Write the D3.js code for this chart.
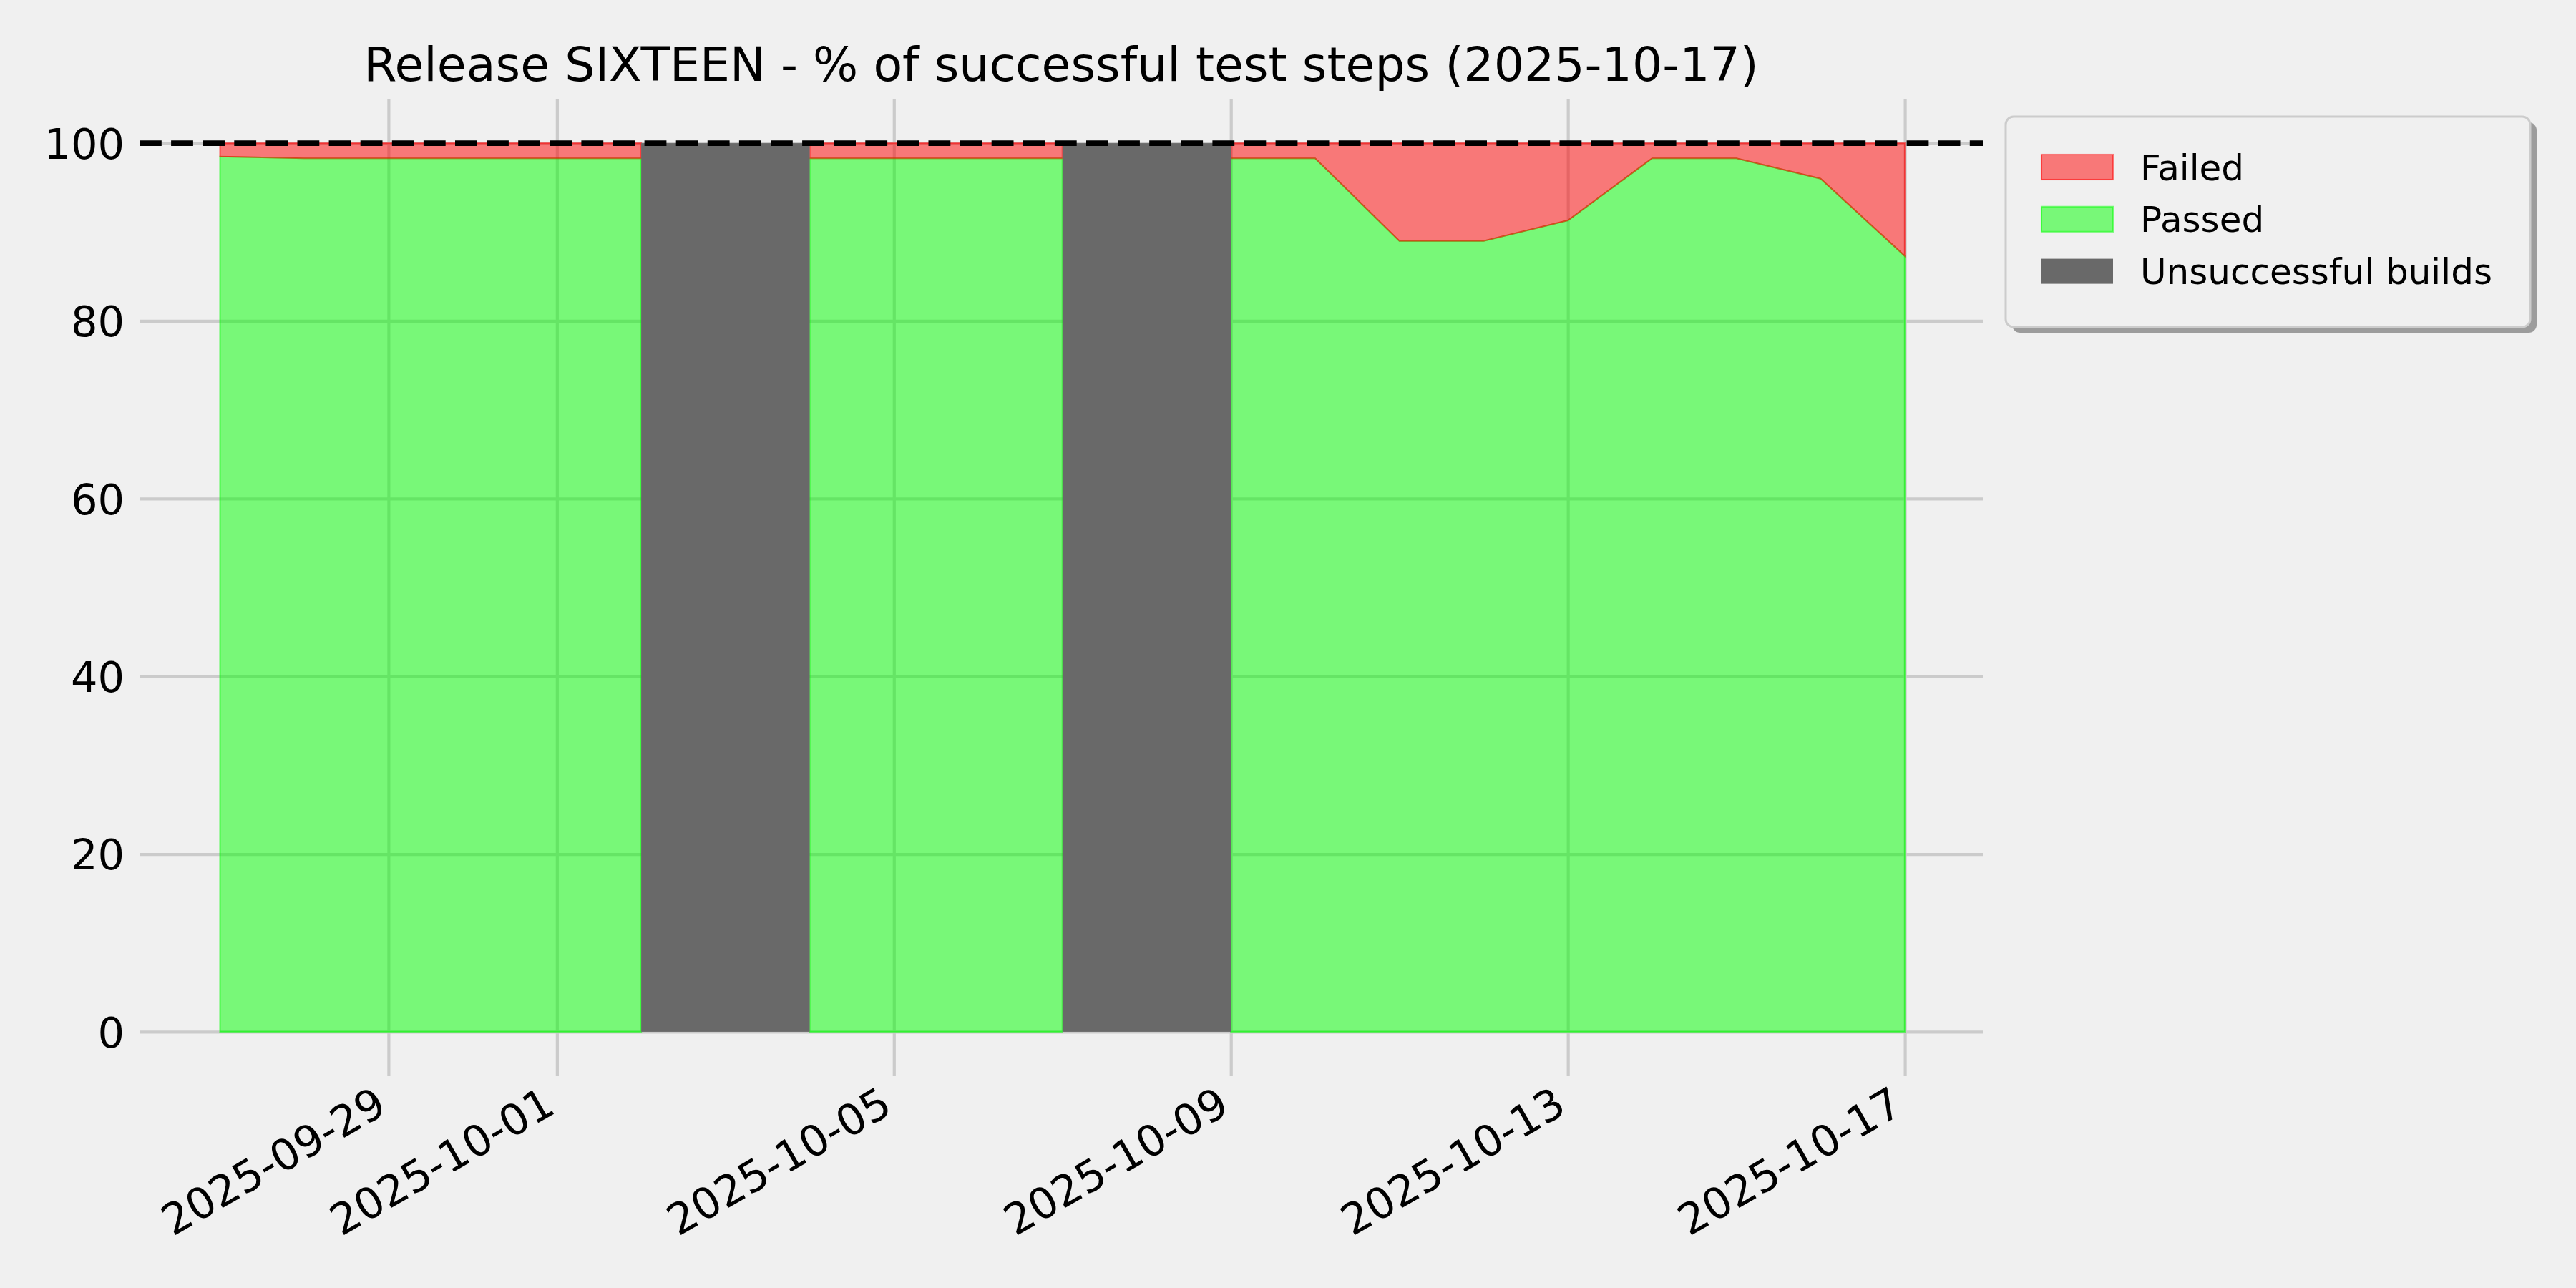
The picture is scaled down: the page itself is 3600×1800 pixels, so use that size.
<!DOCTYPE html>
<html>
<head>
<meta charset="utf-8">
<script src="https://cdn.jsdelivr.net/npm/d3@7"></script>
<style>
  html, body { margin: 0; padding: 0; background: #f0f0f0; }
  svg { display: block; font-family: "DejaVu Sans", sans-serif; }
</style>
</head>
<body>
<svg id="chart" width="3600" height="1800"></svg>
<script>
// ---- data ----
const dates = ["2025-09-27","2025-09-28","2025-09-29","2025-09-30","2025-10-01","2025-10-02","2025-10-03",
               "2025-10-04","2025-10-05","2025-10-06","2025-10-07","2025-10-08","2025-10-09","2025-10-10",
               "2025-10-11","2025-10-12","2025-10-13","2025-10-14","2025-10-15","2025-10-16","2025-10-17"];
const passed = [98.5, 98.3, 98.3, 98.3, 98.3, 98.3, null, 98.3, 98.3, 98.3, 98.3, null, 98.3, 98.3,
                89.0, 89.0, 91.3, 98.3, 98.3, 96.0, 87.3];
const failed = [1.5, 1.7, 1.7, 1.7, 1.7, 1.7, null, 1.7, 1.7, 1.7, 1.7, null, 1.7, 1.7,
                11.0, 11.0, 8.7, 1.7, 1.7, 4.0, 12.7];
const unsuccessfulBuilds = ["2025-10-03", "2025-10-08"];
const xTickLabels = ["2025-09-29","2025-10-01","2025-10-05","2025-10-09","2025-10-13","2025-10-17"];
const yTicks = [0, 20, 40, 60, 80, 100];
const targetLine = 100;
const legendLabels = ["Failed", "Passed", "Unsuccessful builds"];
const titleText = "Release SIXTEEN - % of successful test steps (2025-10-17)";

// ---- layout ----
const DAY = 24 * 3600 * 1000;
const parse = d3.utcParse("%Y-%m-%d");
const fmt = d3.utcFormat("%Y-%m-%d");
const X0 = 195, X1 = 2771;
const rows = dates.map((d, i) => ({ date: parse(d), passed: passed[i], failed: failed[i] }));
const first = rows[0].date, last = rows[rows.length - 1].date;

const x = d3.scaleUtc()
  .domain([new Date(+first - 0.955 * DAY), new Date(+last + 0.925 * DAY)])
  .range([X0, X1]);
const y = d3.scaleLinear().domain([-5, 105]).range([1504, 138]);

const svg = d3.select("#chart");
svg.append("rect").attr("width", 3600).attr("height", 1800).attr("fill", "#f0f0f0");

const GRID = "#cbcbcb";

// y grid + labels
const yAxis = svg.append("g").attr("transform", `translate(${X0},0)`)
  .call(d3.axisLeft(y).tickValues(yTicks).tickSize(-(X1 - X0)).tickPadding(21).tickFormat(d3.format("d")));
yAxis.select(".domain").remove();
yAxis.selectAll(".tick line").attr("stroke", GRID).attr("stroke-width", 4.2);
yAxis.selectAll(".tick text").attr("font-size", 59).attr("fill", "#000").attr("dy", "0.36em")
  .attr("font-family", "DejaVu Sans");

// x grid + labels
const xAxis = svg.append("g").attr("transform", `translate(0,${y(-5)})`)
  .call(d3.axisBottom(x).tickValues(xTickLabels.map(parse)).tickSize(-(y(-5) - y(105))).tickFormat(fmt));
xAxis.select(".domain").remove();
xAxis.selectAll(".tick line").attr("stroke", GRID).attr("stroke-width", 4.2);
xAxis.selectAll(".tick text")
  .attr("font-size", 60).attr("fill", "#000").attr("font-family", "DejaVu Sans")
  .attr("x", 0).attr("y", 0).attr("dy", 0)
  .attr("text-anchor", "end")
  .attr("transform", "translate(0,50) rotate(-30)");

// stacked areas
const defined = d => d.passed != null;
const greenArea = d3.area().defined(defined)
  .x(d => x(d.date)).y0(() => y(0)).y1(d => y(d.passed));
const redArea = d3.area().defined(defined)
  .x(d => x(d.date)).y0(d => y(d.passed)).y1(d => y(d.passed + d.failed));

svg.append("path").datum(rows).attr("d", greenArea)
  .attr("fill", "rgba(0,255,0,0.5)").attr("stroke", "rgba(0,255,0,0.5)").attr("stroke-width", 2.1)
  .attr("stroke-linejoin", "miter");
svg.append("path").datum(rows).attr("d", redArea)
  .attr("fill", "rgba(255,0,0,0.5)").attr("stroke", "rgba(255,0,0,0.5)").attr("stroke-width", 2.1)
  .attr("stroke-linejoin", "miter");

// unsuccessful builds spans
svg.append("g").selectAll("rect").data(unsuccessfulBuilds).join("rect")
  .attr("x", d => x(new Date(+parse(d) - DAY)))
  .attr("width", d => x(new Date(+parse(d) + DAY)) - x(new Date(+parse(d) - DAY)))
  .attr("y", y(100)).attr("height", y(0) - y(100))
  .attr("fill", "#696969");

// target dashed line
svg.append("line")
  .attr("x1", X0).attr("x2", X1).attr("y1", y(targetLine)).attr("y2", y(targetLine))
  .attr("stroke", "#000").attr("stroke-width", 7.8).attr("stroke-dasharray", "30.8,13.3");

// title
svg.append("text").attr("x", (X0 + X1) / 2).attr("y", 113)
  .attr("text-anchor", "middle").attr("font-size", 66.5).attr("fill", "#000")
  .attr("font-family", "DejaVu Sans").text(titleText);

// legend
const legend = svg.append("g");
const LX = 2803, LY = 163, LW = 733, LH = 294;
legend.append("rect").attr("x", LX + 9).attr("y", LY + 8).attr("width", LW).attr("height", LH)
  .attr("rx", 11).attr("fill", "#9c9c9c");
legend.append("rect").attr("x", LX).attr("y", LY).attr("width", LW).attr("height", LH)
  .attr("rx", 11).attr("fill", "#f0f0f0").attr("stroke", "#cccccc").attr("stroke-width", 3);
const legendFill = ["rgba(255,0,0,0.5)", "rgba(0,255,0,0.5)", "#696969"];
const legendStroke = ["rgba(255,0,0,0.5)", "rgba(0,255,0,0.5)", "none"];
const item = legend.selectAll("g.item").data(legendLabels).join("g").attr("class", "item")
  .attr("transform", (d, i) => `translate(0,${233.5 + i * 72.8})`);
item.append("rect").attr("x", 2853).attr("y", -17.5).attr("width", 100).attr("height", 35)
  .attr("fill", (d, i) => legendFill[i]).attr("stroke", (d, i) => legendStroke[i]).attr("stroke-width", 2.1);
item.append("text").attr("x", 2991).attr("y", 18).attr("font-size", 50)
  .attr("font-family", "DejaVu Sans").attr("fill", "#000").text(d => d);
</script>
</body>
</html>
